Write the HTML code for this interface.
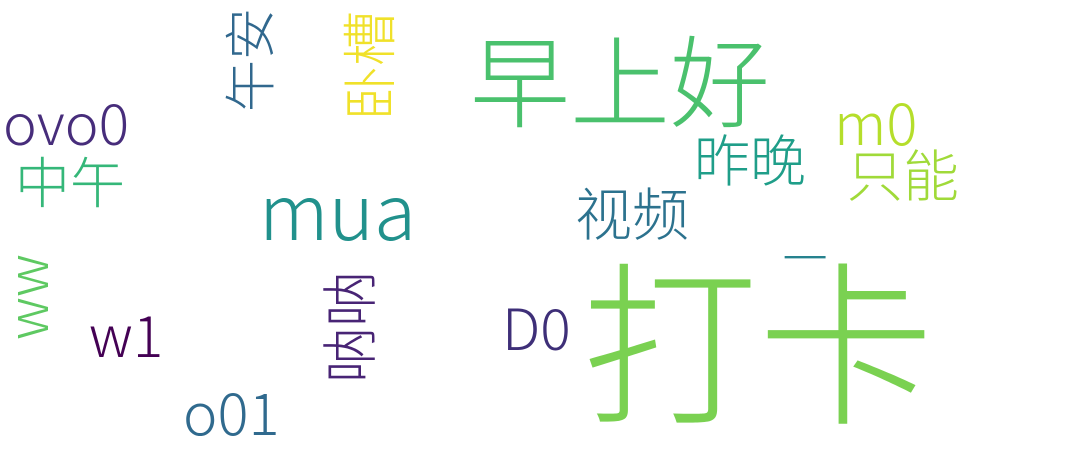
<!DOCTYPE html>
<html><head><meta charset="utf-8"><style>
html,body{margin:0;padding:0;background:#fff;width:1080px;height:463px;overflow:hidden}
.c text{font-family:"Noto Sans CJK SC","WenQuanYi Zen Hei",sans-serif;font-weight:300}
.l text{font-family:"Noto Sans CJK SC","Liberation Sans",sans-serif;font-weight:300}
</style></head><body>
<svg width="1080" height="463" viewBox="0 0 1080 463" xmlns="http://www.w3.org/2000/svg">
<g text-anchor="middle" dominant-baseline="central" class="c">
<text x="620" y="76" font-size="100" fill="#4ac16d">早上好</text>
<text x="758" y="334" font-size="176" fill="#7ad151">打卡</text>
<text x="632" y="211" font-size="57" fill="#2c728e">视频</text>
<text x="750" y="158" font-size="56" fill="#1f9e89">昨晚</text>
<text x="903" y="173" font-size="56" fill="#a0da39">只能</text>
<text x="70" y="179" font-size="55" fill="#35b779">中午</text>
<text x="247" y="60" font-size="52" fill="#31688e" transform="rotate(-90 247 60)">午安</text>
<text x="366" y="66" font-size="55" fill="#f0e12a" transform="rotate(-90 366 66)">卧槽</text>
<text x="347" y="327" font-size="56" fill="#482475" transform="rotate(-90 347 327)">呐呐</text>
<text x="805" y="255" font-size="45" fill="#26828e">一</text>
</g>
<g class="l">
<text x="259" y="240" font-size="77" fill="#21918c">mua</text>
<text x="3" y="145" font-size="57" fill="#472d7b">ovo0</text>
<text x="834" y="145" font-size="58" fill="#b5de2b">m0</text>
<text x="89" y="357" font-size="57" fill="#440154">w1</text>
<text x="502" y="350" font-size="57" fill="#3e2f78">D0</text>
<text x="183" y="435" font-size="58" fill="#306a8e">o01</text>
<text x="340" y="48" font-size="56" fill="#5ec962" transform="rotate(-90 0 0) translate(-680 0)">ww</text>
</g>
</svg>
</body></html>
